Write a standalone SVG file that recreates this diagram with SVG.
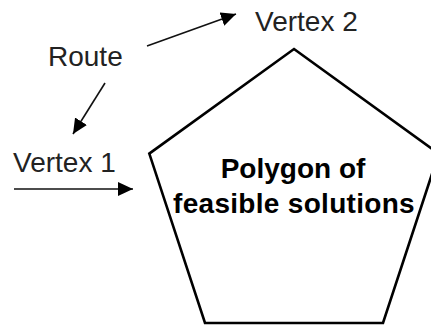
<svg xmlns="http://www.w3.org/2000/svg" width="431" height="327" viewBox="0 0 431 327">
  <style>
    .lbl { font-family: "Liberation Sans", Arial, sans-serif; font-size: 28px; fill: #222; }
    .title { font-family: "Liberation Sans", Arial, sans-serif; font-size: 28px; font-weight: bold; fill: #000; text-anchor: middle; }
    .conn { stroke: #111; stroke-width: 1.6; fill: none; }
  </style>
  <defs>
    <marker id="arrow" markerUnits="userSpaceOnUse" markerWidth="17" markerHeight="16" refX="15" refY="7" orient="auto">
      <path d="M0,0 L15,7 L0,14 Z" fill="#000"/>
    </marker>
  </defs>
  <rect width="431" height="327" fill="#fff"/>
  <g id="polygon">
    <polygon points="294,49 438.7,153.6 383,323 205,323 149.3,153.6" fill="#fff" stroke="#000" stroke-width="2.6" stroke-linejoin="miter"/>
    <text class="title" x="293" y="178">Polygon of</text>
    <text class="title" x="294" y="213" letter-spacing="0.3">feasible solutions</text>
  </g>
  <g id="route">
    <text class="lbl" x="48" y="66">Route</text>
  </g>
  <g id="vertex2">
    <text class="lbl" x="255" y="31">Vertex 2</text>
  </g>
  <g id="vertex1">
    <text class="lbl" x="13" y="172">Vertex 1</text>
  </g>
  <g id="connectors">
    <line class="conn" x1="147" y1="46" x2="236" y2="14" marker-end="url(#arrow)"/>
    <line class="conn" x1="105" y1="83" x2="73" y2="134" marker-end="url(#arrow)"/>
    <line class="conn" x1="14" y1="189" x2="133" y2="189" marker-end="url(#arrow)"/>
  </g>
</svg>
